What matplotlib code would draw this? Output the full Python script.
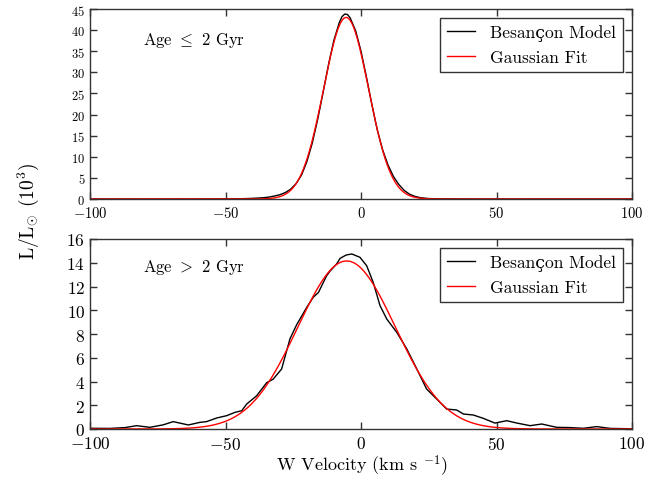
import numpy as np
import matplotlib
matplotlib.use("Agg")
import matplotlib.pyplot as plt

plt.rcParams['font.family'] = ['cmr10', 'DejaVu Serif']
plt.rcParams['mathtext.fontset'] = 'cm'
plt.rcParams['axes.formatter.use_mathtext'] = True
plt.rcParams['axes.unicode_minus'] = True

# young population (age <= 2 Gyr): model curve
v_young = [-100, -60, -45, -40, -36, -34, -32, -30, -28, -26, -24, -22, -20, -18,
           -16, -14, -12, -10, -8, -7, -6, -5, -4, -2, 0, 2, 4, 6, 8, 10, 12,
           14, 16, 18, 20, 22, 25, 30, 40, 100]
lum_young = [0.0, 0.0, 0.05, 0.15, 0.3, 0.45, 0.7, 1.0, 1.5, 2.3, 3.6, 5.6, 8.8, 13.2,
             18.8, 25.2, 31.8, 37.6, 41.8, 43.2, 43.8, 43.7, 42.9, 39.9, 35.0, 28.9,
             22.4, 16.4, 11.6, 8.0, 5.3, 3.4, 2.0, 1.1, 0.6, 0.3, 0.1, 0.03, 0.0, 0.0]

# old population (age > 2 Gyr): model curve
v_old = [-100, -92.6, -87, -82.8, -77.9, -73, -69.3, -63.7, -59.4, -57, -53.2, -49.6,
         -46.5, -44, -42.2, -38.5, -34.8, -32.4, -29.3, -26.2, -23.7, -20, -17.6,
         -15.7, -12.7, -11.4, -9, -7.7, -5.5, -3.4, -0.4, 2.1, 4.5, 7, 9.5, 13.2,
         16.9, 20.6, 24.2, 27.9, 31.6, 35.3, 37.8, 41.4, 45.1, 49.4, 53.8, 57.5,
         62.4, 66.7, 72.2, 77.1, 82, 87, 92, 100]
lum_old = [0.06, 0.05, 0.12, 0.28, 0.14, 0.35, 0.62, 0.34, 0.56, 0.62, 0.93, 1.12,
           1.4, 1.54, 2.1, 2.8, 3.9, 4.2, 5.05, 7.6, 8.8, 10.25, 11.1, 11.5, 12.9,
           13.3, 13.9, 14.37, 14.65, 14.74, 14.46, 13.75, 12.35, 10.4, 9.26, 8.14,
           6.74, 5.05, 3.37, 2.53, 1.68, 1.6, 1.26, 1.18, 0.9, 0.5, 0.7, 0.5, 0.28,
           0.42, 0.14, 0.12, 0.06, 0.2, 0.05, 0.02]

# gaussian fit parameters (amplitude, mean, sigma)
fit_young = (43.0, -5.5, 8.3)
fit_old = (14.15, -5.3, 18.0)


def gauss(x, a, mu, sig):
    return a * np.exp(-(x - mu) ** 2 / (2 * sig ** 2))


fig = plt.figure(figsize=(6.65, 4.81), dpi=100)
ax1 = fig.add_axes([90 / 665, 1 - 200 / 481, 542 / 665, 190 / 481])
ax2 = fig.add_axes([90 / 665, 1 - 430 / 481, 542 / 665, 190 / 481])

xf = np.linspace(-100, 100, 801)

panels = [(ax1, v_young, lum_young, fit_young, r"Age $\leq$ 2 Gyr", 45, 9, 10.5, 0.84),
          (ax2, v_old, lum_old, fit_old, r"Age $>$ 2 Gyr", 16, 12.5, 12.5, 0.855)]

for ax, v, lum, fit, label, ymax, yfs, xfs, ty in panels:
    ax.plot(v, lum, color='k', lw=1.0, label='Besançon Model')
    ax.plot(xf, gauss(xf, *fit), color='r', lw=1.0, label='Gaussian Fit')
    ax.set_xlim(-100, 100)
    ax.set_ylim(0, ymax)
    ax.set_xticks([-100, -50, 0, 50, 100])
    ax.tick_params(direction='in', top=True, right=True, length=5, width=1,
                   color='#333333')
    ax.tick_params(axis='y', labelsize=yfs)
    ax.tick_params(axis='x', labelsize=xfs, pad=4)
    for sp in ax.spines.values():
        sp.set_color('#333333')
        sp.set_linewidth(1.0)
    ax.text(0.098, ty, label, transform=ax.transAxes,
            fontsize=12, va='center', ha='left')
    leg = ax.legend(loc='upper right', fontsize=12.5, fancybox=False,
                    edgecolor='#333333', framealpha=1, borderaxespad=0.5,
                    handlelength=1.6, handletextpad=0.9, borderpad=0.4)
    leg.get_frame().set_linewidth(1.0)

ax1.set_yticks(range(0, 46, 5))
ax2.set_yticks(range(0, 17, 2))

fig.text(28 / 665, 1 - 212 / 481, r"L/L$_{\odot}$ (10$^{3}$)", rotation=90,
         fontsize=14, ha='center', va='center')
fig.text(362 / 665, 1 - 466 / 481, r"W Velocity (km s $^{-1}$)", fontsize=13,
         ha='center', va='center')

fig.savefig('out.png', dpi=100)
